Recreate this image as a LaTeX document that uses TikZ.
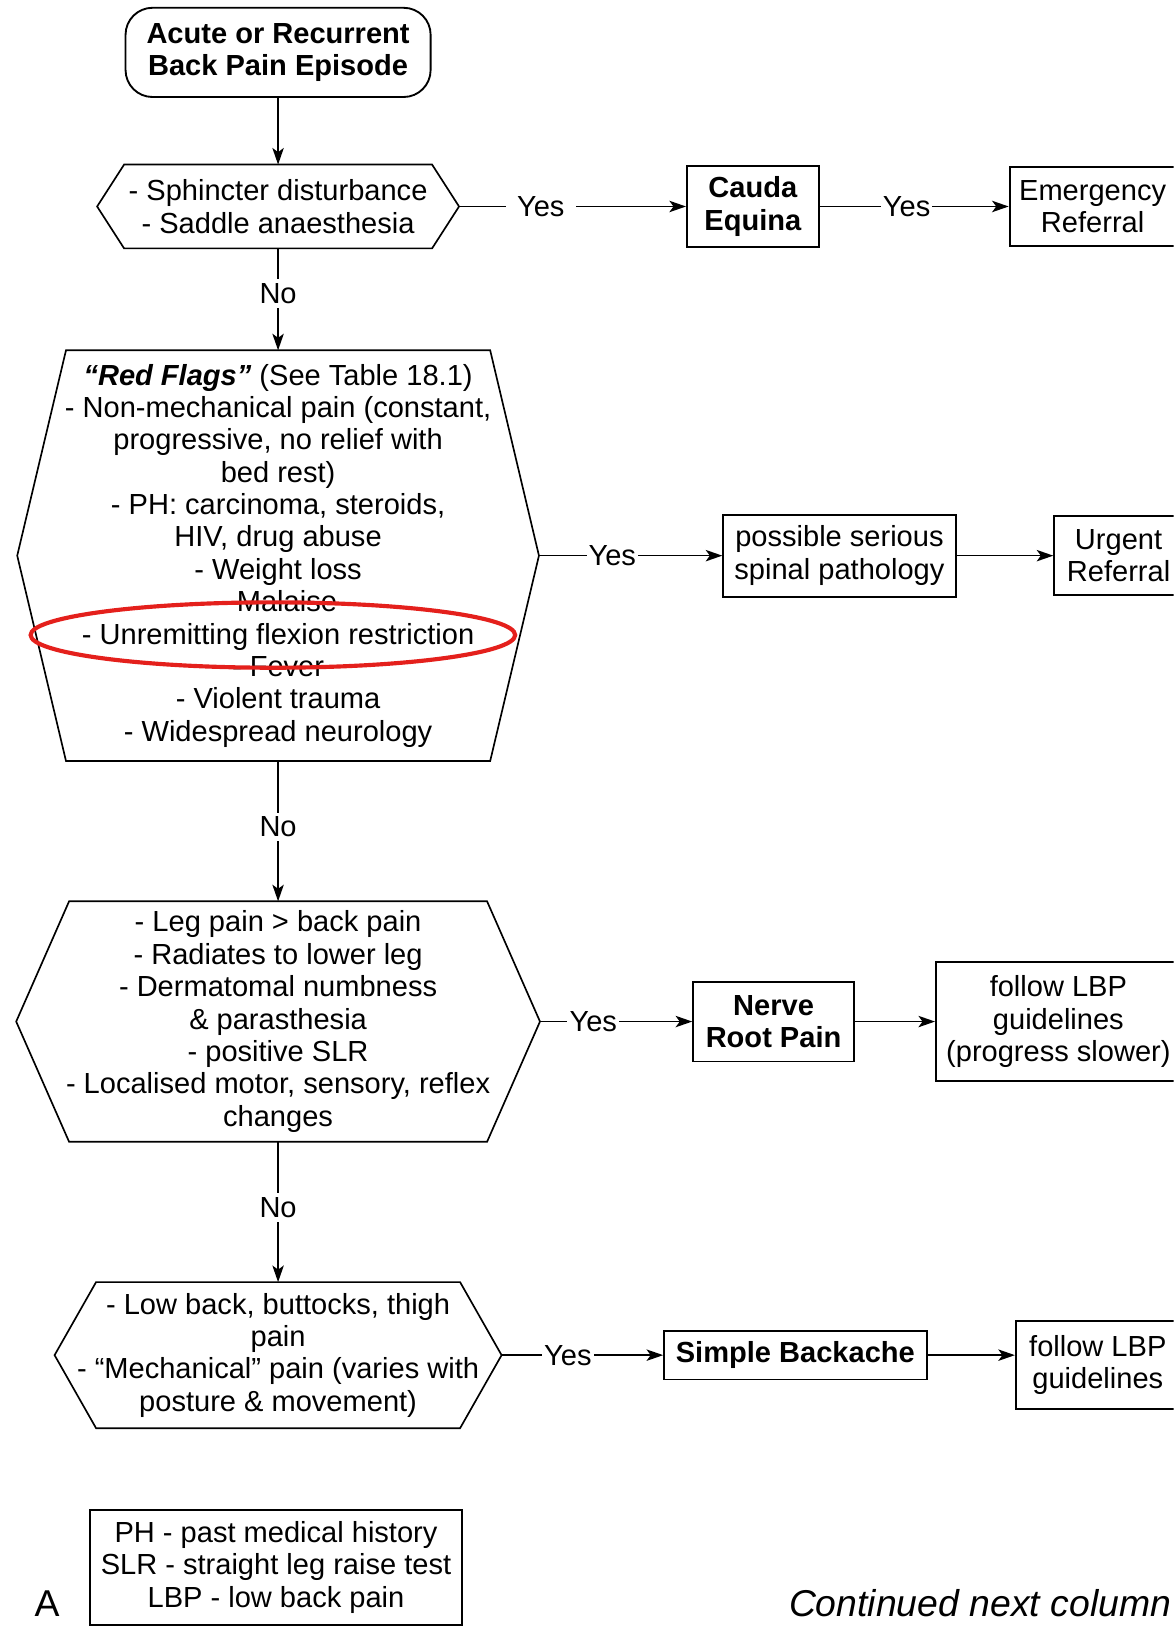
\documentclass[tikz,border=0pt]{standalone}
\usepackage{fontspec}
\setmainfont{Liberation Sans}
\usepackage{xcolor}
\usepackage{tikz}
\usetikzlibrary{arrows.meta, positioning, calc}

\newcommand{\chartfont}{\fontsize{14pt}{15.6pt}\selectfont}
\definecolor{markred}{RGB}{228,32,28}

\begin{document}
\begin{tikzpicture}[
    x=0.5pt, y=-0.5pt,
    box/.style={rectangle, draw, line width=0.9pt, inner sep=0pt, align=center, font=\chartfont},
    keybox/.style={box, font=\chartfont\bfseries},
    startbox/.style={keybox, rounded corners=13pt},
    hexnode/.style={rectangle, inner xsep=-20pt, inner ysep=-20pt, align=center, font=\chartfont},
    hexline/.style={draw, line width=0.8pt},
    arrow/.style={-{Stealth[length=8pt, width=5.5pt, inset=2pt]}, line width=0.8pt},
    cond/.style={font=\chartfont, fill=white, inner xsep=1pt, inner ysep=2pt},
    highlight/.style={draw=markred, line width=2pt},
]

\path[use as bounding box, clip] (0,0) rectangle (1131,1568);

% main column
\node[startbox, minimum width=147pt, minimum height=43pt] (start) at (268,50.5) {Acute or Recurrent\\Back Pain Episode};
\node[hexnode, minimum width=148pt, minimum height=40pt] (sphincter) at (268,199) {- Sphincter disturbance\\- Saddle anaesthesia};
\node[hexnode, minimum width=204pt, minimum height=197.5pt] (redflags) at (268,535.5) {{\bfseries\itshape “Red Flags”} (See Table 18.1)\\- Non-mechanical pain (constant,\\progressive, no relief with\\bed rest)\\- PH: carcinoma, steroids,\\HIV, drug abuse\\- Weight loss\\- Malaise\\- Unremitting flexion restriction\\- Fever\\- Violent trauma\\- Widespread neurology};
\node[hexnode, minimum width=201pt, minimum height=115.5pt] (legpain) at (268,984.5) {- Leg pain > back pain\\- Radiates to lower leg\\- Dermatomal numbness\\\& parasthesia\\- positive SLR\\- Localised motor, sensory, reflex\\changes};
\node[hexnode, minimum width=175pt, minimum height=70pt] (mechpain) at (268,1306) {- Low back, buttocks, thigh\\pain\\- “Mechanical” pain (varies with\\posture \& movement)};
\node[box, minimum width=179.5pt, minimum height=55.5pt] (legend) at (266,1510.5) {PH - past medical history\\SLR - straight leg raise test\\LBP - low back pain};

% outcomes
\node[keybox, minimum width=63.5pt, minimum height=39pt] (cauda) at (725.5,199) {Cauda\\Equina};
\node[box, minimum width=80pt, minimum height=38pt] (emergency) at (1053,199) {Emergency\\Referral};
\node[box, minimum width=112pt, minimum height=39.5pt] (serious) at (809,535.5) {possible serious\\spinal pathology};
\node[box, minimum width=62pt, minimum height=38pt] (urgent) at (1078,535.5) {Urgent\\Referral};
\node[keybox, minimum width=77.5pt, minimum height=38.5pt] (nerveroot) at (745.5,984.5) {Nerve\\Root Pain};
\node[box, minimum width=118pt, minimum height=57pt] (slowlbp) at (1020,984.5) {follow LBP\\guidelines\\(progress slower)};
\node[keybox, minimum width=126.5pt, minimum height=23.5pt] (simple) at (766.5,1306) {Simple Backache};
\node[box, minimum width=79pt, minimum height=42.5pt] (lbp) at (1058,1315.5) {follow LBP\\guidelines};

\node[anchor=base west, inner sep=0pt, font=\fontsize{18pt}{22pt}\selectfont] (panel) at (33,1558) {A};
\node[anchor=base west, inner sep=0pt, font=\fontsize{18pt}{22pt}\selectfont\itshape] (continued) at (760,1558) {Continued next column};

% hexagon outlines
\foreach \hx/\dx in {sphincter/26, redflags/47, legpain/51, mechpain/40}
    \draw[hexline] (\hx.north west) -- (\hx.north east) -- ($(\hx.east)+(\dx,0)$) coordinate (\hx-tip)
        -- (\hx.south east) -- (\hx.south west) -- ($(\hx.west)+(-\dx,0)$) -- cycle;

\draw[arrow] (start) -- (sphincter);
\draw[arrow] (sphincter-tip) -- node[cond, pos=0.36, inner xsep=5.5pt]{Yes} (cauda);
\draw[arrow] (cauda) -- node[cond, pos=0.46]{Yes} (emergency);
\draw[arrow] (sphincter) -- node[cond, pos=0.44]{No} (redflags);
\draw[arrow] (redflags-tip) -- node[cond, pos=0.40]{Yes} (serious);
\draw[arrow] (serious) -- (urgent);
\draw[arrow] (redflags) -- node[cond, pos=0.47]{No} (legpain);
\draw[arrow] (legpain-tip) -- node[cond, pos=0.35]{Yes} (nerveroot);
\draw[arrow] (nerveroot) -- (slowlbp);
\draw[arrow] (legpain) -- node[cond, pos=0.47]{No} (mechpain);
\draw[arrow] (mechpain-tip) -- node[cond, pos=0.41]{Yes} (simple);
\draw[arrow] (simple) -- (simple -| lbp.west);

\draw[highlight] (263,612) ellipse [x radius=233.5, y radius=31.5];

\end{tikzpicture}
\end{document}
